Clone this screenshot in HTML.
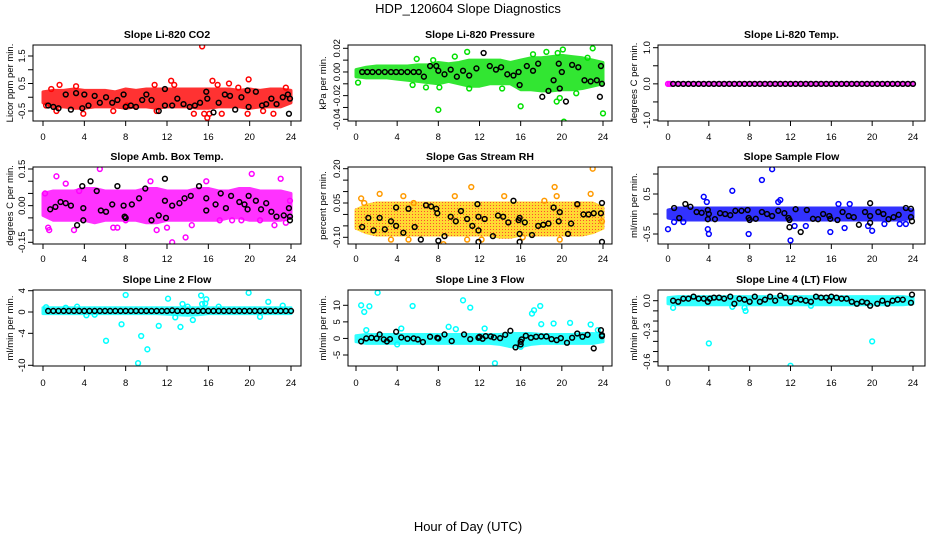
<!DOCTYPE html>
<html><head><meta charset="utf-8"><style>
body{margin:0;background:#fff}
svg{display:block;font-family:"Liberation Sans",sans-serif}
</style></head><body>
<svg id="chart" width="936" height="540" viewBox="0 0 936 540">
<defs>
<pattern id="pat-rh" width="3" height="3" patternUnits="userSpaceOnUse"><rect width="3" height="3" fill="#ffd000"/><rect x="1" y="1" width="1" height="1" fill="#ff2000"/></pattern>
</defs>
<text x="468" y="13" text-anchor="middle" font-size="13">HDP_120604  Slope Diagnostics</text>
<text x="468" y="531" text-anchor="middle" font-size="13">Hour of Day (UTC)</text>
</svg>
<script>
const xTicks=[0,4,8,12,16,20,24];
// CO2
const co2Hi=[0.2,0.25,0.25,0.3,0.25,0.25,0.25,0.2,0.3,0.25,0.3,0.3,0.3,0.3,0.3,0.3,0.3,0.3,0.3,0.25,0.3,0.25,0.3,0.3,0.25];
const co2Lo=[-0.2,-0.35,-0.35,-0.4,-0.4,-0.35,-0.35,-0.35,-0.4,-0.35,-0.35,-0.4,-0.35,-0.35,-0.35,-0.4,-0.4,-0.35,-0.35,-0.35,-0.4,-0.35,-0.35,-0.35,-0.2];
const co2Pts=[[0.3,-0.3],[0.8,0.3],[1.6,0.45],[1.3,-0.5],[3.2,0.4],[3.9,-0.6],[6.8,-0.5],[8.1,-0.3],[10.8,0.45],[11,-0.5],[12.4,0.6],[12.7,0.45],[14.6,-0.6],[15.4,1.85],[15.6,-0.6],[15.9,-0.75],[16.1,-0.6],[16.4,0.6],[16.9,0.45],[17.3,-0.6],[18,0.5],[18.9,0.35],[19.9,0.65],[19.8,-0.6],[21.3,-0.5],[22.3,-0.6],[23.5,0.35]];
const co2Blk=[[0.5,-0.3],[1,-0.35],[1.5,-0.4],[2.2,0.1],[2.7,-0.45],[3.2,0.15],[3.8,-0.4],[4,0.1],[4.4,-0.3],[5,0.05],[5.5,-0.2],[6.1,0],[6.7,-0.2],[7.2,-0.1],[7.8,0.1],[8,-0.35],[8.5,-0.3],[9,-0.35],[9.6,-0.1],[10,0.1],[10.5,-0.1],[11.2,-0.5],[11.8,0.3],[11.8,-0.3],[12.5,-0.3],[13,-0.05],[13.6,-0.25],[14.2,-0.35],[14.7,-0.3],[15.2,-0.2],[15.8,0.2],[15.9,-0.05],[16.5,-0.55],[17,-0.2],[17.6,0.1],[18.1,0.05],[18.6,-0.45],[19.2,0],[19.8,0.25],[19.9,-0.35],[20.6,0.2],[21.2,-0.3],[21.6,-0.25],[22.1,-0.05],[22.6,-0.25],[23.2,0],[23.7,0.1],[23.8,-0.6],[23.9,-0.05]];
// Pressure
const prHi=[0.002,0.004,0.005,0.005,0.005,0.005,0.006,0.006,0.008,0.007,0.008,0.01,0.01,0.01,0.01,0.008,0.01,0.012,0.012,0.013,0.014,0.013,0.012,0.01,0.008];
const prLo=[-0.004,-0.005,-0.005,-0.005,-0.006,-0.007,-0.008,-0.009,-0.01,-0.008,-0.01,-0.012,-0.012,-0.01,-0.01,-0.01,-0.015,-0.015,-0.016,-0.016,-0.015,-0.015,-0.014,-0.012,-0.01];
const prPts=[[0.2,-0.009],[5.5,-0.011],[5.9,0.011],[6.8,-0.013],[8,-0.032],[8.1,-0.013],[7.5,0.01],[9.6,0.013],[10.8,0.017],[11,-0.014],[14.2,-0.014],[16,-0.029],[17.2,0.015],[18.5,0.017],[19.5,-0.025],[19.8,-0.022],[20.1,0.019],[20.2,-0.042],[21.4,-0.018],[23,0.02],[24,-0.035],[22.5,0.012],[19.6,0.016]];
const prBlk=[[0.6,0],[1.1,0],[1.6,0],[2.2,0],[2.8,0],[3.4,0],[3.9,0],[4.4,0],[5,0],[5.6,0],[6.1,0],[6.6,-0.004],[7.2,0.005],[7.8,0.005],[8,0.001],[8.6,-0.002],[9.2,0.002],[9.8,-0.004],[10.4,0.001],[11,-0.003],[11.7,0.003],[12.4,0.016],[13,0.005],[13.6,0.002],[14.1,0.004],[14.7,-0.002],[15.3,-0.003],[15.8,0],[15.9,-0.011],[16.6,0.005],[17.2,0.001],[17.7,0.007],[18.1,-0.021],[18.7,-0.016],[19.2,-0.007],[19.7,0.007],[19.8,-0.014],[20,0],[20.4,-0.025],[21,0.006],[21.6,0.004],[22.2,-0.007],[22.8,-0.008],[23.4,-0.007],[23.7,-0.021],[23.8,0.005],[23.9,-0.01]];
// Li-820 temp
const tmHi=[0.03,0.03,0.03,0.03,0.03,0.03,0.03,0.03,0.03,0.03,0.03,0.03,0.03,0.03,0.03,0.03,0.03,0.03,0.03,0.03,0.03,0.03,0.03,0.03,0.03];
const tmLo=[-0.03,-0.03,-0.03,-0.03,-0.03,-0.03,-0.03,-0.03,-0.03,-0.03,-0.03,-0.03,-0.03,-0.03,-0.03,-0.03,-0.03,-0.03,-0.03,-0.03,-0.03,-0.03,-0.03,-0.03,-0.03];
const tmPts=[[0,0],[0.2,0]];
const tmBlk=[[0.5,0],[1,0],[1.5,0],[2,0],[2.5,0],[3,0],[3.5,0],[4,0],[4.5,0],[5,0],[5.5,0],[6,0],[6.5,0],[7,0],[7.5,0],[8,0],[8.5,0],[9,0],[9.5,0],[10,0],[10.5,0],[11,0],[11.5,0],[12,0],[12.5,0],[13,0],[13.5,0],[14,0],[14.5,0],[15,0],[15.5,0],[16,0],[16.5,0],[17,0],[17.5,0],[18,0],[18.5,0],[19,0],[19.5,0],[20,0],[20.5,0],[21,0],[21.5,0],[22,0],[22.5,0],[23,0],[23.5,0],[24,0]];
// Amb box temp
const amHi=[0.05,0.06,0.06,0.06,0.07,0.07,0.06,0.06,0.06,0.06,0.07,0.07,0.06,0.06,0.06,0.07,0.07,0.06,0.06,0.07,0.07,0.06,0.06,0.06,0.05];
const amLo=[-0.04,-0.06,-0.06,-0.06,-0.06,-0.07,-0.06,-0.06,-0.06,-0.06,-0.07,-0.07,-0.06,-0.06,-0.06,-0.06,-0.06,-0.06,-0.05,-0.05,-0.06,-0.06,-0.06,-0.06,-0.05];
const amPts=[[0.2,0.05],[0.5,-0.09],[0.6,-0.1],[1.3,0.12],[2.2,0.09],[3,-0.1],[3.5,0.06],[5.5,0.15],[6.8,-0.09],[7.2,-0.09],[8,-0.06],[10.4,0.1],[11,-0.1],[12,-0.09],[12.5,-0.15],[13.8,-0.13],[14.4,-0.08],[15.8,0.1],[17.1,-0.06],[18.3,-0.06],[19.2,-0.06],[20.2,0.13],[21,-0.06],[22.4,-0.08],[23,0.11],[23.5,-0.07],[23.9,0.02]];
const amBlk=[[0.7,-0.015],[1.2,-0.005],[1.7,0.015],[2.2,0.01],[2.7,0],[3.3,-0.08],[3.8,0.08],[3.9,-0.01],[3.9,-0.06],[4.6,0.1],[5.2,0.06],[5.6,-0.02],[6.1,-0.025],[6.7,0.005],[7.2,0.08],[7.8,0],[7.9,-0.045],[8,-0.05],[8.6,0.005],[9.3,0.03],[9.9,0.07],[10.5,-0.06],[11.2,-0.04],[11.8,0.11],[11.8,0.02],[11.9,-0.05],[12.5,0],[13.2,0.01],[13.7,0.03],[14.3,0.04],[15.1,0.08],[15.8,0.03],[15.8,-0.02],[16.7,0.005],[17.2,0.05],[17.7,-0.01],[18.2,0.04],[19,0.015],[19.5,0.005],[19.8,-0.015],[19.9,0.04],[20.6,0.02],[21.1,-0.015],[21.6,0.01],[22.1,-0.025],[22.6,-0.045],[23.3,-0.04],[23.8,-0.01],[23.9,-0.045],[23.9,-0.06]];
// Gas stream RH
const rhHi=[0.02,0.04,0.05,0.05,0.05,0.05,0.05,0.05,0.05,0.05,0.05,0.05,0.05,0.05,0.05,0.05,0.05,0.05,0.05,0.05,0.05,0.05,0.05,0.05,0.03];
const rhLo=[-0.06,-0.08,-0.09,-0.09,-0.09,-0.09,-0.09,-0.09,-0.09,-0.09,-0.09,-0.09,-0.09,-0.09,-0.1,-0.1,-0.09,-0.09,-0.09,-0.09,-0.09,-0.09,-0.09,-0.08,-0.06];
const rhPts=[[0.5,0.07],[0.8,0.05],[2.3,0.09],[3.4,-0.11],[4.6,0.08],[5.1,-0.11],[5.6,0.05],[8.5,-0.13],[9.6,0.08],[10.8,-0.11],[11.2,0.12],[12.2,-0.11],[14.4,0.08],[16.2,-0.1],[18.3,0.06],[19.3,0.12],[19.5,0.08],[19.8,-0.11],[21.5,0.04],[22.8,0.09],[23,0.2],[23.9,-0.03]];
const rhBlk=[[0.6,-0.055],[1.2,-0.015],[1.7,-0.07],[2.3,-0.015],[2.8,-0.065],[3.4,-0.03],[3.9,0.03],[3.9,-0.05],[4.6,-0.08],[5.1,0.025],[5.7,-0.055],[6.3,-0.11],[6.8,0.04],[7.3,0.035],[7.8,0.025],[7.9,0.005],[8,-0.115],[8.6,-0.095],[9.2,-0.01],[9.7,-0.03],[10.2,0.015],[10.8,-0.02],[11.3,-0.05],[11.8,0.045],[11.9,-0.01],[11.9,-0.07],[11.9,-0.12],[12.5,-0.02],[13.3,-0.095],[13.8,-0.005],[14.3,-0.01],[14.8,-0.035],[15.3,0.06],[15.8,-0.025],[15.9,-0.015],[15.9,-0.085],[15.9,-0.12],[16.4,-0.035],[17.1,-0.09],[17.7,-0.05],[18.2,-0.045],[18.7,-0.04],[19.2,0.03],[19.7,-0.03],[19.8,0.01],[20.6,-0.085],[20.9,-0.04],[21.5,0.045],[22.1,0],[22.6,0],[23.1,0.005],[23.8,0.005],[23.9,0.05],[23.9,-0.12]];
// Sample flow
const sfHi=[0.1,0.15,0.15,0.15,0.15,0.15,0.15,0.15,0.15,0.15,0.15,0.15,0.15,0.15,0.15,0.15,0.15,0.15,0.15,0.15,0.15,0.15,0.15,0.15,0.1];
const sfLo=[-0.1,-0.15,-0.15,-0.15,-0.15,-0.15,-0.15,-0.15,-0.15,-0.15,-0.15,-0.15,-0.15,-0.15,-0.15,-0.15,-0.15,-0.15,-0.15,-0.15,-0.15,-0.15,-0.15,-0.15,-0.1];
const sfPts=[[0,-0.38],[0.6,-0.2],[1.5,-0.2],[3.5,0.43],[3.8,0.3],[3.9,-0.38],[4,-0.5],[6.3,0.58],[7.9,-0.5],[9.2,0.85],[10.2,1.12],[10.8,0.3],[11,0.35],[12,-0.66],[12.4,-0.3],[13.5,-0.3],[15.9,-0.45],[16.7,0.25],[17.3,-0.35],[17.8,0.25],[19.6,-0.3],[20,-0.42],[21.2,-0.25],[22.7,-0.25],[23.3,-0.25]];
const sfBlk=[[0.6,0.15],[1.1,-0.1],[1.7,0.25],[2.2,0.18],[2.8,0.05],[3.3,0.03],[3.9,0.1],[3.9,-0.13],[4,0],[4.6,-0.13],[5.1,0.02],[5.6,0],[6.1,-0.03],[6.6,0.08],[7.2,0.08],[7.8,0.1],[7.9,-0.1],[8,-0.15],[8.6,-0.12],[9.2,0.05],[9.7,0],[10.2,-0.05],[10.8,0.08],[11.4,0.02],[11.8,-0.1],[11.9,-0.15],[11.9,-0.33],[12.5,0.12],[13,-0.45],[13.6,0.1],[14.2,-0.12],[14.7,-0.13],[15.2,0],[15.8,-0.05],[15.9,-0.12],[16.6,-0.15],[17.1,0.05],[17.7,-0.05],[18.2,-0.08],[18.7,-0.27],[19.3,0.05],[19.8,0.27],[19.8,-0.05],[19.8,-0.22],[20.6,0.05],[21.1,0],[21.6,-0.13],[22.1,-0.08],[22.6,-0.02],[23.3,0.15],[23.8,0.13],[23.8,-0.08],[23.9,-0.18]];
// Line 2 flow
const l2Hi=[0.8,0.8,0.8,0.8,0.8,0.8,0.8,0.8,0.8,0.8,0.8,0.8,0.8,0.8,0.8,0.8,0.8,0.8,0.8,0.8,0.8,0.8,0.8,0.8,0.8];
const l2Lo=[-0.3,-0.3,-0.3,-0.3,-0.3,-0.3,-0.3,-0.3,-0.3,-0.3,-0.3,-0.3,-0.4,-0.5,-0.6,-0.5,-0.3,-0.3,-0.3,-0.3,-0.3,-0.3,-0.3,-0.3,-0.3];
const l2Pts=[[0.3,0.9],[2.2,0.8],[3.3,1],[4.2,-0.6],[5,-0.5],[6.1,-5.4],[7.6,-2.3],[8,3.2],[9.2,-9.6],[9.5,-4.5],[10.1,-7],[11.2,-2.6],[12.1,2.5],[12.8,-1],[13.3,-2.8],[13.5,1.5],[14,1],[14.5,-1.5],[15.3,3.1],[15.4,1.5],[15.7,1.6],[15.8,2.4],[17,1],[19.9,3.6],[21,-0.9],[21.8,1.9],[23.2,1.2]];
const l2Blk=[[0.5,0.2],[1,0.2],[1.5,0.2],[2,0.2],[2.5,0.2],[3,0.2],[3.5,0.2],[4,0.2],[4.5,0.2],[5,0.2],[5.5,0.2],[6,0.2],[6.5,0.2],[7,0.2],[7.5,0.2],[8,0.2],[8.5,0.2],[9,0.2],[9.5,0.2],[10,0.2],[10.5,0.2],[11,0.2],[11.5,0.2],[12,0.2],[12.5,0.3],[13,0.2],[13.5,0.2],[14,0.2],[14.5,0.2],[15,0.2],[15.5,0.2],[16,0.2],[16.5,0.2],[17,0.2],[17.5,0.2],[18,0.2],[18.5,0.2],[19,0.2],[19.5,0.2],[20,0.2],[20.5,0.2],[21,0.2],[21.5,0.2],[22,0.2],[22.5,0.2],[23,0.2],[23.5,0.2],[24,0.2]];
// Line 3 flow
const l3Hi=[0.8,1.2,1.2,1.2,1.2,1.2,1.2,1.2,1.2,1.2,1.2,1.2,1.2,1.2,1.2,1.5,1.5,1.5,1.2,1.2,1.2,1.2,1.5,1.5,1.2];
const l3Lo=[-1,-1.5,-1.5,-1.5,-1.5,-1.5,-1.5,-1.5,-1.5,-1.5,-1.5,-1.5,-1.5,-1.5,-1.8,-2.5,-2.5,-1.8,-1.5,-1.5,-1.5,-1.5,-1.5,-1.5,-1];
const l3Pts=[[0.5,10],[0.8,8],[1,2.5],[1.3,9.7],[2.1,13.8],[3,-0.5],[4,-1.8],[4.4,3],[5.5,9.8],[9,3.5],[9.7,2.8],[10.4,11.5],[11.1,9.3],[12.5,3],[13.5,-7.5],[16,-2.5],[17.1,7.5],[17.3,8.5],[17.9,9.8],[18,4.3],[19.2,4.5],[20.8,4.7],[22.8,4.2],[23.5,2.5]];
const l3Blk=[[0.5,-0.9],[1,0],[1.5,0.2],[2,0],[2.3,1.2],[2.7,-0.3],[3,-0.9],[3.3,-0.2],[3.9,2],[4.4,0.3],[5,-0.1],[5.6,0],[6,-0.3],[6.5,-1.1],[7.2,0.5],[7.9,0.2],[8,0],[8.6,1.2],[9.3,-0.8],[10.5,1.2],[11.1,-0.2],[11.9,0.2],[12,0.5],[12.3,-0.1],[12.6,0.7],[13.1,0.6],[13.4,0.3],[14,0.1],[14.5,1.1],[15,2.3],[15.5,-2.7],[16,-1],[16,-1.8],[16.1,-0.3],[16.5,0.8],[17,0.2],[17.5,0.5],[18,0.6],[18.5,0.6],[19,-0.2],[19.5,-0.5],[19.9,0.1],[20.5,-1.3],[21,0.2],[21.5,1.5],[22,0.5],[22.5,1.1],[23.1,-3],[23.8,2.5],[23.9,0.7],[23.9,1]];
// Line 4 flow
const l4Hi=[0.03,0.04,0.04,0.04,0.04,0.04,0.04,0.04,0.04,0.04,0.04,0.04,0.04,0.04,0.04,0.04,0.04,0.04,0.04,0.04,0.04,0.04,0.04,0.04,0.03];
const l4Lo=[-0.03,-0.04,-0.04,-0.04,-0.04,-0.04,-0.04,-0.04,-0.04,-0.04,-0.04,-0.04,-0.04,-0.04,-0.04,-0.04,-0.04,-0.04,-0.04,-0.04,-0.04,-0.04,-0.04,-0.04,-0.03];
const l4Pts=[[0.5,-0.07],[4,-0.42],[6.3,-0.06],[7.5,-0.07],[7.6,-0.1],[12,-0.64],[20,-0.4],[14,-0.05]];
const l4Blk=[[0.5,0],[1,-0.01],[1.5,0.02],[2,0.02],[2.5,0.04],[3,0.02],[3.5,0.02],[3.9,-0.01],[4.1,0.02],[4.5,0.03],[5,0.03],[5.5,0.02],[6.1,0.04],[6.5,-0.03],[7,0.02],[7.5,0.01],[8,-0.01],[8.5,0.04],[9,-0.01],[9.5,0.01],[10,0.04],[10.5,0],[11,0.05],[11.5,0.03],[12,-0.01],[12.5,0.02],[13,0.01],[13.5,0],[14,-0.01],[14.5,0.04],[15,0.03],[15.5,0.03],[15.8,0],[16,0.04],[16.5,0.03],[17,0.02],[17.5,0.02],[18,-0.01],[18.5,-0.03],[19,-0.01],[19.5,-0.02],[19.8,-0.05],[20.5,-0.03],[21,0],[21.5,-0.03],[22,0],[22.5,0.01],[23,0.01],[23.8,-0.02],[23.9,0.06]];
const yTicks1=[-0.5,0,0.5,1,1.5], yLab1=["-0.5","0.5","1.5"], yLabV1=[-0.5,0.5,1.5];
const yTicks2=[0.02,0.01,0,-0.01,-0.02,-0.03,-0.04], yLab2=["0.02","0.00","-0.02","-0.04"], yLabV2=[0.02,0,-0.02,-0.04];
const yTicks3=[1,0.5,0,-0.5,-1], yLab3=["1.0","0.0","-1.0"], yLabV3=[1,0,-1];
const yTicks4=[0.15,0.1,0.05,0,-0.05,-0.1,-0.15], yLab4=["0.15","0.00","-0.15"], yLabV4=[0.15,0,-0.15];
const yTicks5=[0.2,0.15,0.1,0.05,0,-0.05,-0.1], yLab5=["0.20","0.05","-0.10"], yLabV5=[0.2,0.05,-0.1];
const yTicks6=[1,0.5,0,-0.5], yLab6=["0.5","-0.5"], yLabV6=[0.5,-0.5];
const yTicks7=[4,0,-4,-10], yLab7=["4","0","-4","-10"], yLabV7=[4,0,-4,-10];
const yTicks8=[10,5,0,-5], yLab8=["10","5","0","-5"], yLabV8=[10,5,0,-5];
const yTicks9=[0,-0.1,-0.2,-0.3,-0.4,-0.5,-0.6], yLab9=["0.0","-0.3","-0.6"], yLabV9=[0,-0.3,-0.6];

const cols=[{bx:33,bw:268,x0:43,x24:291,lx:9,tx:25},{bx:348,bw:264,x0:356,x24:603,lx:322,tx:340},{bx:658,bw:267,x0:668,x24:913,lx:633,tx:650}];
const rows=[{by:45,bh:76,ty:38,xl:140},{by:167,bh:77,ty:160,xl:262},{by:290,bh:76,ty:283,xl:386}];
const panels=[
{id:"co2",t:"Slope Li-820 CO2",yl:"Licor ppm per min.",c:0,r:0,v1:1.5,p1:56,v2:-0.5,p2:111,hi:co2Hi,lo:co2Lo,pts:co2Pts,blk:co2Blk,col:"#ff0000",fill:"#ff0000",tk:yTicks1,lb:yLab1,lv:yLabV1},
{id:"pressure",t:"Slope Li-820 Pressure",yl:"kPa per min.",c:1,r:0,v1:0.02,p1:48.3,v2:-0.04,p2:119.3,hi:prHi,lo:prLo,pts:prPts,blk:prBlk,col:"#00e000",fill:"#00e000",tk:yTicks2,lb:yLab2,lv:yLabV2},
{id:"li820-temp",t:"Slope Li-820 Temp.",yl:"degrees C per min.",c:2,r:0,v1:1,p1:47.7,v2:-1,p2:120,hi:tmHi,lo:tmLo,pts:tmPts,blk:tmBlk,col:"#ff00ff",fill:"#ff00ff",tk:yTicks3,lb:yLab3,lv:yLabV3},
{id:"amb-temp",t:"Slope Amb. Box Temp.",yl:"degrees C per min.",c:0,r:1,v1:0.15,p1:169,v2:-0.15,p2:242.3,hi:amHi,lo:amLo,pts:amPts,blk:amBlk,col:"#ff00ff",fill:"#ff00ff",tk:yTicks4,lb:yLab4,lv:yLabV4},
{id:"rh",t:"Slope Gas Stream RH",yl:"percent per min.",c:1,r:1,v1:0.2,p1:168.7,v2:-0.1,p2:237.3,hi:rhHi,lo:rhLo,pts:rhPts,blk:rhBlk,col:"#ff9a00",fill:"url(#pat-rh)",tk:yTicks5,lb:yLab5,lv:yLabV5},
{id:"sample-flow",t:"Slope Sample Flow",yl:"ml/min per min.",c:2,r:1,v1:0.5,p1:194,v2:-0.5,p2:234,hi:sfHi,lo:sfLo,pts:sfPts,blk:sfBlk,col:"#0000ff",fill:"#0000ff",tk:yTicks6,lb:yLab6,lv:yLabV6},
{id:"line2",t:"Slope Line 2 Flow",yl:"ml/min per min.",c:0,r:2,v1:4,p1:290.7,v2:-10,p2:365.3,hi:l2Hi,lo:l2Lo,pts:l2Pts,blk:l2Blk,col:"#00ffff",fill:"#00ffff",tk:yTicks7,lb:yLab7,lv:yLabV7},
{id:"line3",t:"Slope Line 3 Flow",yl:"ml/min per min.",c:1,r:2,v1:10,p1:305.3,v2:-5,p2:355,hi:l3Hi,lo:l3Lo,pts:l3Pts,blk:l3Blk,col:"#00ffff",fill:"#00ffff",tk:yTicks8,lb:yLab8,lv:yLabV8},
{id:"line4",t:"Slope Line 4 (LT) Flow",yl:"ml/min per min.",c:2,r:2,v1:0,p1:300.7,v2:-0.6,p2:361.7,hi:l4Hi,lo:l4Lo,pts:l4Pts,blk:l4Blk,col:"#00ffff",fill:"#00ffff",tk:yTicks9,lb:yLab9,lv:yLabV9}
];
const NS="http://www.w3.org/2000/svg";
const svg=document.getElementById('chart');
function mk(tag,attrs,parent){const e=document.createElementNS(NS,tag);for(const k in attrs)e.setAttribute(k,attrs[k]);parent.appendChild(e);return e;}
panels.forEach(p=>{
  const C=cols[p.c],R=rows[p.r];
  const xs=h=>C.x0+(C.x24-C.x0)*h/24;
  const ys=v=>p.p1+(v-p.v1)*(p.p2-p.p1)/(p.v2-p.v1);
  const g=mk('g',{},svg);
  
  
  const cp=mk('clipPath',{id:'clip-'+p.id},g);
  mk('rect',{x:C.bx,y:R.by,width:C.bw,height:R.bh},cp);
  const t=mk('text',{x:C.bx+C.bw/2,y:R.ty,'text-anchor':'middle','font-size':'10.5','font-weight':'bold'},g);
  t.textContent=p.t;
  
  
  const yl=mk('text',{x:C.lx+4,y:R.by+R.bh/2,'text-anchor':'middle','font-size':'9.5',transform:`rotate(-90 ${C.lx+4} ${R.by+R.bh/2})`},g);
  yl.textContent=p.yl;
  
  
  const plot=mk('g',{'clip-path':`url(#clip-${p.id})`},g);
  
  
  let d='';
  p.hi.forEach((v,i)=>{d+=(i?'L':'M')+xs(i).toFixed(1)+' '+ys(v).toFixed(1);});
  for(let i=p.lo.length-1;i>=0;i--)d+='L'+xs(i).toFixed(1)+' '+ys(p.lo[i]).toFixed(1);
  const band=mk('path',{d:d+'Z',fill:p.fill,stroke:p.fill,'stroke-width':'3','stroke-linejoin':'round',opacity:'0.8'},plot);
  
  
  p.pts.forEach(q=>{
    const c=mk('circle',{cx:xs(q[0]),cy:ys(q[1]),r:2.4,fill:'none',stroke:p.col,'stroke-width':'1.5'},plot);
    
    
  });
  p.blk.forEach(q=>{
    const c=mk('circle',{cx:xs(q[0]),cy:ys(q[1]),r:2.4,fill:'none',stroke:'#000','stroke-width':'1.5'},plot);
    
    
  });
  const box=mk('rect',{x:C.bx,y:R.by,width:C.bw,height:R.bh,fill:'none',stroke:'#000','stroke-width':'1'},g);
  
  
  const ya=mk('g',{},g);
  
  
  const ty=p.tk.map(ys);
  mk('line',{x1:C.bx,x2:C.bx,y1:Math.min(...ty),y2:Math.max(...ty),stroke:'#000'},ya);
  p.tk.forEach(v=>mk('line',{x1:C.bx-5,x2:C.bx,y1:ys(v),y2:ys(v),stroke:'#000'},ya));
  p.lv.forEach((v,i)=>{
    const tx=mk('text',{x:C.tx,y:ys(v),'text-anchor':'middle','font-size':'9.5',transform:`rotate(-90 ${C.tx} ${ys(v)})`},ya);
    tx.textContent=p.lb[i];
    
    
  });
  const xa=mk('g',{},g);
  
  
  const yb=R.by+R.bh;
  xTicks.forEach(h=>{
    mk('line',{x1:xs(h),x2:xs(h),y1:yb,y2:yb+5,stroke:'#000'},xa);
    const tx=mk('text',{x:xs(h),y:R.xl,'text-anchor':'middle','font-size':'9.5'},xa);
    tx.textContent=h;
    
    
  });
});
</script>
</body></html>
